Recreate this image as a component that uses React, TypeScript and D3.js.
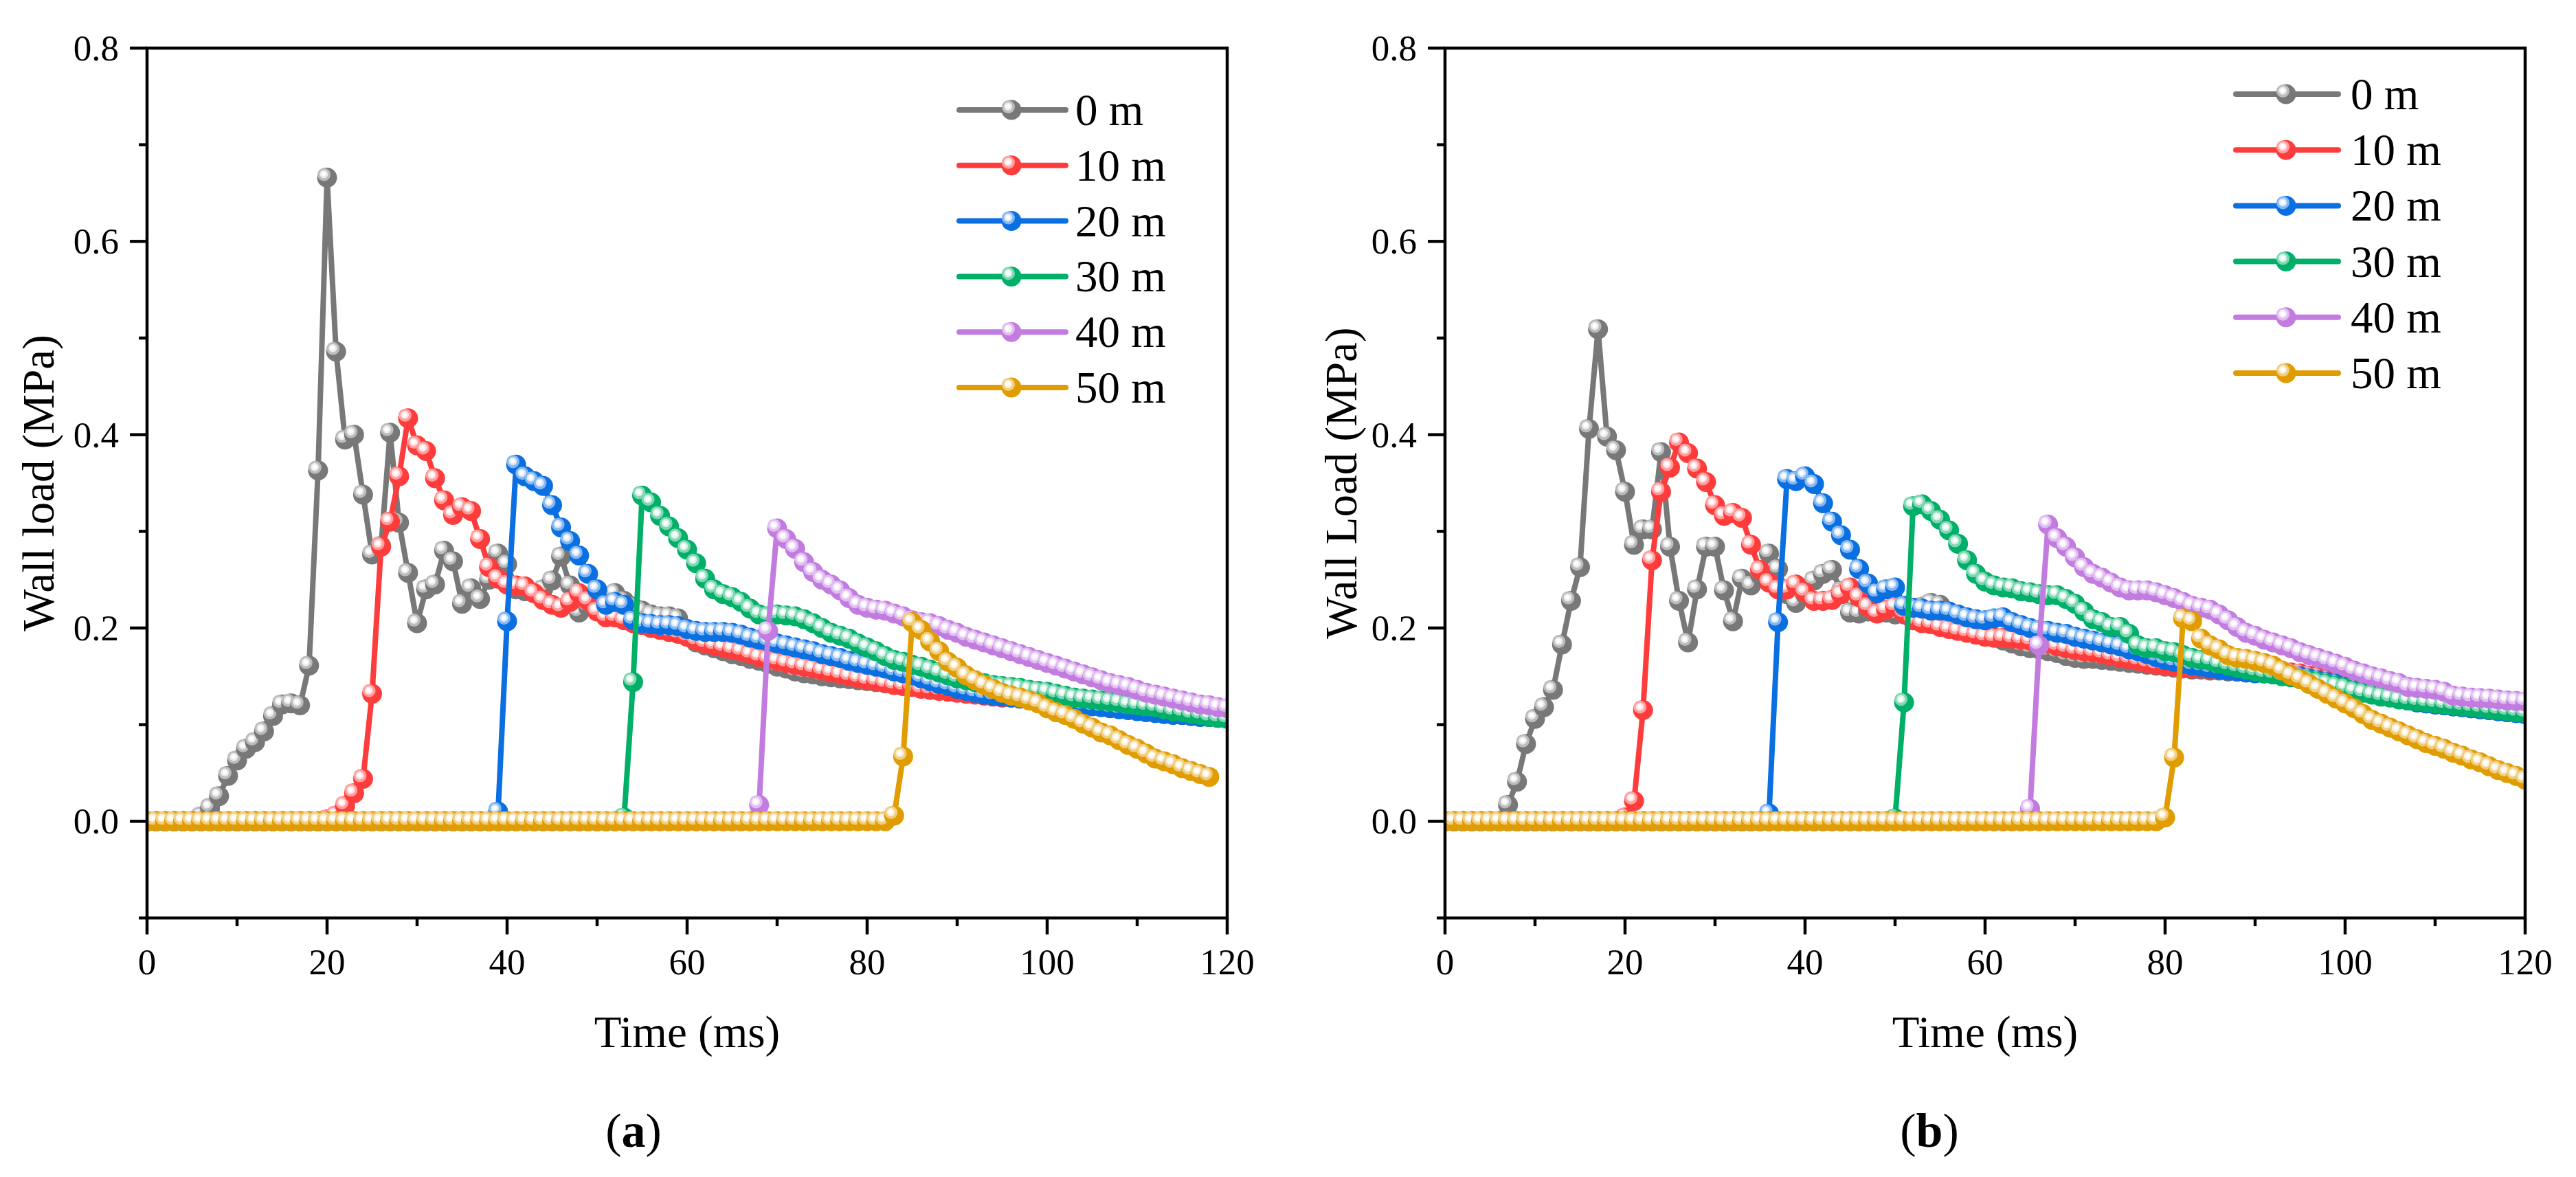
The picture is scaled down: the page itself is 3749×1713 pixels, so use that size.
import React from 'react';
import * as d3 from 'd3';

// ---------- DATA ----------
const seriesNames = ['0 m', '10 m', '20 m', '30 m', '40 m', '50 m'];
const seriesColors = ['#787878', '#FF3C3C', '#0A6FE0', '#00AF68', '#C27CE0', '#E09C00'];
const xTicks = [0, 20, 40, 60, 80, 100, 120];
const yTicks = [0.0, 0.2, 0.4, 0.6, 0.8];
const timeMs = d3.range(0, 121); // sample times, 1 ms step

// Panel (a)
const a0 = [0,0,0,0,0,0,0.005,0.014,0.026,0.047,0.063,0.075,0.082,0.093,0.109,0.121,0.122,0.120,0.161,0.363,
0.666,0.486,0.395,0.400,0.338,0.276,0.285,0.402,0.309,0.257,0.205,0.240,0.245,0.280,0.269,0.225,0.241,0.230,0.250,0.277,
0.266,0.240,0.238,0.236,0.240,0.249,0.274,0.244,0.216,0.222,0.228,0.232,0.236,0.228,0.222,0.218,0.214,0.212,0.212,0.210,
0.198,0.185,0.182,0.179,0.176,0.173,0.171,0.168,0.166,0.163,0.160,0.158,0.155,0.153,0.152,0.150,0.149,0.148,0.147,0.146,
0.145,0.144,0.143,0.142,0.141,0.140,0.139,0.138,0.137,0.136,0.135,0.134,0.133,0.132,0.131,0.130,0.129,0.128,0.127,0.126,
0.125,0.124,0.123,0.122,0.121,0.120,0.119,0.118,0.117,0.116,0.115,0.114,0.113,0.112,0.111,0.110,0.109,0.109,0.108,0.107,0.106];
const a10 = [0,0,0,0,0,0,0,0,0,0,0,0,0,0,0,0,0,0,0,0,
0.002,0.006,0.016,0.029,0.044,0.132,0.284,0.310,0.357,0.417,0.389,0.383,0.355,0.332,0.317,0.325,0.321,0.292,0.263,0.251,
0.245,0.244,0.243,0.236,0.229,0.224,0.221,0.227,0.236,0.228,0.217,0.211,0.211,0.208,0.205,0.203,0.200,0.198,0.196,0.194,
0.191,0.187,0.184,0.182,0.180,0.178,0.176,0.173,0.170,0.168,0.166,0.164,0.162,0.160,0.158,0.156,0.154,0.152,0.150,0.148,
0.146,0.145,0.143,0.141,0.140,0.139,0.137,0.136,0.135,0.134,0.133,0.132,0.131,0.130,0.129,0.128,0.128,0.127,0.126,0.125,
0.125,0.124,0.123,0.122,0.121,0.120,0.119,0.118,0.117,0.116,0.115,0.114,0.113,0.112,0.111,0.110,0.110,0.109,0.108,0.108,0.107];
const a20 = [0,0,0,0,0,0,0,0,0,0,0,0,0,0,0,0,0,0,0,0,
0,0,0,0,0,0,0,0,0,0,0,0,0,0,0,0,0,0,0,0.010,
0.207,0.369,0.357,0.352,0.347,0.327,0.304,0.290,0.275,0.256,0.240,0.224,0.227,0.224,0.208,0.205,0.204,0.203,0.203,0.202,
0.199,0.197,0.196,0.196,0.196,0.195,0.193,0.190,0.188,0.186,0.184,0.182,0.180,0.178,0.176,0.173,0.171,0.169,0.166,0.164,
0.162,0.160,0.158,0.155,0.153,0.151,0.148,0.145,0.142,0.140,0.137,0.135,0.133,0.131,0.130,0.129,0.128,0.127,0.126,0.125,
0.124,0.123,0.122,0.121,0.120,0.119,0.118,0.117,0.116,0.115,0.114,0.113,0.112,0.111,0.110,0.110,0.109,0.108,0.108,0.107,0.107];
const a30 = [0,0,0,0,0,0,0,0,0,0,0,0,0,0,0,0,0,0,0,0,
0,0,0,0,0,0,0,0,0,0,0,0,0,0,0,0,0,0,0,0,
0,0,0,0,0,0,0,0,0,0,0,0,0,0.004,0.144,0.337,0.330,0.316,0.305,0.293,
0.281,0.267,0.251,0.240,0.235,0.232,0.227,0.220,0.214,0.212,0.214,0.213,0.212,0.209,0.205,0.200,0.195,0.192,0.189,0.184,
0.180,0.176,0.171,0.167,0.165,0.162,0.160,0.157,0.154,0.151,0.148,0.146,0.144,0.143,0.141,0.140,0.139,0.138,0.136,0.135,
0.134,0.132,0.130,0.128,0.127,0.126,0.125,0.124,0.123,0.121,0.120,0.119,0.118,0.116,0.114,0.113,0.111,0.110,0.108,0.107,0.106];
const a40 = [0,0,0,0,0,0,0,0,0,0,0,0,0,0,0,0,0,0,0,0,
0,0,0,0,0,0,0,0,0,0,0,0,0,0,0,0,0,0,0,0,
0,0,0,0,0,0,0,0,0,0,0,0,0,0,0,0,0,0,0,0,
0,0,0,0,0,0,0,0,0.017,0.197,0.303,0.292,0.282,0.268,0.258,0.250,0.245,0.239,0.231,0.224,
0.221,0.219,0.218,0.215,0.212,0.208,0.206,0.205,0.202,0.198,0.195,0.191,0.188,0.185,0.182,0.179,0.176,0.173,0.170,0.167,
0.164,0.161,0.158,0.155,0.152,0.149,0.146,0.143,0.141,0.139,0.136,0.133,0.131,0.129,0.127,0.125,0.123,0.121,0.120,0.118,0.117];
const a50 = [0,0,0,0,0,0,0,0,0,0,0,0,0,0,0,0,0,0,0,0,
0,0,0,0,0,0,0,0,0,0,0,0,0,0,0,0,0,0,0,0,
0,0,0,0,0,0,0,0,0,0,0,0,0,0,0,0,0,0,0,0,
0,0,0,0,0,0,0,0,0,0,0,0,0,0,0,0,0,0,0,0,
0,0,0,0.006,0.067,0.206,0.198,0.186,0.176,0.165,0.159,0.151,0.146,0.141,0.137,0.133,0.130,0.128,0.125,0.122,
0.117,0.113,0.110,0.106,0.101,0.097,0.092,0.089,0.084,0.079,0.075,0.070,0.065,0.062,0.059,0.055,0.052,0.049,0.046];

// Panel (b)
const b0 = [0,0,0,0,0,0,0,0.017,0.041,0.080,0.106,0.118,0.136,0.183,0.228,0.263,0.406,0.509,0.398,0.384,
0.341,0.286,0.302,0.302,0.382,0.284,0.228,0.185,0.240,0.284,0.284,0.239,0.207,0.251,0.244,0.255,0.277,0.261,0.235,0.226,
0.235,0.249,0.256,0.260,0.238,0.216,0.215,0.217,0.218,0.216,0.214,0.214,0.218,0.222,0.226,0.224,0.212,0.200,0.197,0.194,
0.192,0.190,0.187,0.184,0.181,0.179,0.178,0.176,0.174,0.171,0.169,0.168,0.168,0.167,0.166,0.165,0.164,0.163,0.162,0.161,
0.160,0.159,0.158,0.157,0.157,0.156,0.156,0.155,0.155,0.154,0.154,0.153,0.153,0.152,0.151,0.150,0.148,0.146,0.144,0.142,
0.139,0.137,0.135,0.133,0.131,0.129,0.127,0.125,0.123,0.122,0.121,0.120,0.119,0.118,0.117,0.116,0.115,0.114,0.113,0.112,0.111];
const b10 = [0,0,0,0,0,0,0,0,0,0,0,0,0,0,0,0,0,0,0,0,
0.004,0.021,0.115,0.270,0.341,0.366,0.392,0.381,0.365,0.351,0.327,0.316,0.319,0.314,0.286,0.260,0.247,0.240,0.240,0.245,
0.237,0.228,0.228,0.229,0.235,0.242,0.232,0.222,0.215,0.219,0.222,0.215,0.208,0.205,0.204,0.201,0.199,0.197,0.195,0.193,
0.191,0.190,0.190,0.189,0.188,0.187,0.186,0.184,0.181,0.179,0.177,0.176,0.175,0.173,0.171,0.169,0.168,0.166,0.164,0.162,
0.161,0.160,0.159,0.158,0.158,0.157,0.157,0.156,0.156,0.156,0.155,0.155,0.155,0.155,0.154,0.153,0.151,0.149,0.146,0.143,
0.140,0.138,0.136,0.134,0.131,0.129,0.127,0.125,0.124,0.123,0.122,0.121,0.120,0.119,0.118,0.117,0.116,0.115,0.114,0.113,0.112];
const b20 = [0,0,0,0,0,0,0,0,0,0,0,0,0,0,0,0,0,0,0,0,
0,0,0,0,0,0,0,0,0,0,0,0,0,0,0,0,0.008,0.206,0.354,0.352,
0.357,0.349,0.329,0.310,0.296,0.281,0.261,0.246,0.236,0.240,0.242,0.223,0.221,0.220,0.218,0.218,0.217,0.214,0.211,0.209,
0.208,0.210,0.211,0.206,0.203,0.200,0.198,0.197,0.195,0.194,0.191,0.189,0.187,0.185,0.183,0.181,0.178,0.176,0.173,0.170,
0.167,0.165,0.163,0.161,0.160,0.158,0.157,0.156,0.155,0.154,0.153,0.153,0.152,0.152,0.151,0.150,0.148,0.146,0.144,0.142,
0.139,0.137,0.135,0.133,0.131,0.129,0.127,0.125,0.123,0.122,0.121,0.120,0.119,0.118,0.117,0.116,0.115,0.114,0.113,0.112,0.111];
const b30 = [0,0,0,0,0,0,0,0,0,0,0,0,0,0,0,0,0,0,0,0,
0,0,0,0,0,0,0,0,0,0,0,0,0,0,0,0,0,0,0,0,
0,0,0,0,0,0,0,0,0,0,0.003,0.123,0.326,0.328,0.321,0.312,0.301,0.287,0.270,0.256,
0.248,0.244,0.242,0.241,0.238,0.237,0.235,0.234,0.234,0.230,0.225,0.217,0.209,0.206,0.201,0.201,0.194,0.182,0.179,0.179,
0.176,0.175,0.172,0.169,0.167,0.166,0.163,0.161,0.159,0.157,0.155,0.153,0.152,0.150,0.149,0.147,0.146,0.144,0.142,0.140,
0.138,0.135,0.133,0.131,0.129,0.128,0.126,0.125,0.124,0.123,0.122,0.121,0.120,0.119,0.118,0.117,0.116,0.115,0.114,0.113,0.112];
const b40 = [0,0,0,0,0,0,0,0,0,0,0,0,0,0,0,0,0,0,0,0,
0,0,0,0,0,0,0,0,0,0,0,0,0,0,0,0,0,0,0,0,
0,0,0,0,0,0,0,0,0,0,0,0,0,0,0,0,0,0,0,0,
0,0,0,0,0,0.013,0.182,0.307,0.293,0.284,0.273,0.263,0.256,0.252,0.247,0.242,0.239,0.239,0.239,0.237,
0.234,0.231,0.227,0.223,0.221,0.219,0.214,0.208,0.201,0.195,0.192,0.188,0.185,0.182,0.179,0.175,0.172,0.169,0.166,0.163,
0.160,0.156,0.153,0.150,0.148,0.145,0.143,0.139,0.138,0.137,0.136,0.134,0.130,0.129,0.128,0.1275,0.127,0.126,0.125,0.1245,0.124];
const b50 = [0,0,0,0,0,0,0,0,0,0,0,0,0,0,0,0,0,0,0,0,
0,0,0,0,0,0,0,0,0,0,0,0,0,0,0,0,0,0,0,0,
0,0,0,0,0,0,0,0,0,0,0,0,0,0,0,0,0,0,0,0,
0,0,0,0,0,0,0,0,0,0,0,0,0,0,0,0,0,0,0,0,
0.004,0.066,0.210,0.207,0.189,0.182,0.178,0.172,0.169,0.168,0.166,0.164,0.161,0.156,0.151,0.147,0.142,0.137,0.132,0.127,
0.122,0.117,0.111,0.105,0.101,0.097,0.093,0.089,0.085,0.081,0.078,0.075,0.071,0.068,0.064,0.061,0.057,0.053,0.050,0.047,0.043];

// ---------- LAYOUT ----------
const W = 3749;
const H = 1713;
const FONT = '"Liberation Serif", "Times New Roman", Times, serif';

type Panel = {
  id: string;
  left: number;
  right: number;
  top: number;
  bottom: number;
  series: number[][];
  yTitle: string;
  yTitleX: number;
  label: string;
  labelX: number;
  legend: { x1: number; x2: number; xm: number; xt: number; y0: number; dy: number };
};

const panels: Panel[] = [
  {
    id: 'a', left: 214, right: 1786, top: 70, bottom: 1336,
    series: [a0, a10, a20, a30, a40, a50],
    yTitle: 'Wall load (MPa)', yTitleX: 78, label: 'a', labelX: 922,
    legend: { x1: 1396, x2: 1551, xm: 1472, xt: 1565, y0: 160, dy: 80.8 },
  },
  {
    id: 'b', left: 2103, right: 3675, top: 70, bottom: 1336,
    series: [b0, b10, b20, b30, b40, b50],
    yTitle: 'Wall Load (MPa)', yTitleX: 1974, label: 'b', labelX: 2808,
    legend: { x1: 3254, x2: 3403, xm: 3327, xt: 3421, y0: 137, dy: 81.2 },
  },
];

const MR = 14.5; // marker radius

function Marker({ x, y, color }: { x: number; y: number; color: string }) {
  const light = d3.interpolateRgb(color, '#ffffff')(0.5);
  const lighter = d3.interpolateRgb(color, '#ffffff')(0.85);
  return (
    <g transform={`translate(${x},${y})`}>
      <circle r={MR} fill={color} />
      <circle cx={-4.5} cy={-4.5} r={9.5} fill={light} />
      <circle cx={-4.8} cy={-5} r={6} fill={lighter} />
      <circle cx={-5} cy={-5.2} r={3.2} fill="#ffffff" />
    </g>
  );
}

function PanelView({ p }: { p: Panel }) {
  const x = d3.scaleLinear().domain([0, 120]).range([p.left, p.right]);
  const y = d3.scaleLinear().domain([-0.1, 0.8]).range([p.bottom, p.top]);
  const line = d3.line<[number, number]>().x((d) => x(d[0])).y((d) => y(d[1]));
  const minorY = d3.range(-1, 9).map((k) => k / 10).filter((v) => !yTicks.some((t) => Math.abs(t - v) < 1e-9));
  const minorX = [10, 30, 50, 70, 90, 110];
  const cx = (p.left + p.right) / 2;
  const cy = (p.top + p.bottom) / 2;
  const clipId = `clip-${p.id}`;
  return (
    <g>
      <defs>
        <clipPath id={clipId}>
          <rect x={p.left} y={p.top} width={p.right - p.left} height={p.bottom - p.top} />
        </clipPath>
      </defs>
      <g clipPath={`url(#${clipId})`}>
        {p.series.map((vals, si) => {
          const pts: [number, number][] = vals.map((v, i) => [timeMs[i], v]);
          const color = seriesColors[si];
          return (
            <g key={si}>
              <path d={line(pts) || ''} fill="none" stroke={color} strokeWidth={8} strokeLinejoin="round" />
              {pts.map((d, i) => (
                <Marker key={i} x={x(d[0])} y={y(d[1])} color={color} />
              ))}
            </g>
          );
        })}
      </g>
      {/* frame */}
      <rect x={p.left} y={p.top} width={p.right - p.left} height={p.bottom - p.top} fill="none" stroke="#000" strokeWidth={4.5} />
      {/* y ticks */}
      {yTicks.map((t) => (
        <g key={`yt${t}`}>
          <line x1={p.left - 25} x2={p.left} y1={y(t)} y2={y(t)} stroke="#000" strokeWidth={4.5} />
          <text x={p.left - 41} y={y(t) + 18} textAnchor="end" fontFamily={FONT} fontSize={53}>
            {d3.format('.1f')(t)}
          </text>
        </g>
      ))}
      {minorY.map((t) => (
        <line key={`ym${t}`} x1={p.left - 12} x2={p.left} y1={y(t)} y2={y(t)} stroke="#000" strokeWidth={4.5} />
      ))}
      {/* x ticks */}
      {xTicks.map((t) => (
        <g key={`xt${t}`}>
          <line x1={x(t)} x2={x(t)} y1={p.bottom} y2={p.bottom + 24} stroke="#000" strokeWidth={4.5} />
          <text x={x(t)} y={1418} textAnchor="middle" fontFamily={FONT} fontSize={53}>
            {t}
          </text>
        </g>
      ))}
      {minorX.map((t) => (
        <line key={`xm${t}`} x1={x(t)} x2={x(t)} y1={p.bottom} y2={p.bottom + 12} stroke="#000" strokeWidth={4.5} />
      ))}
      {/* titles */}
      <text x={cx} y={1524} textAnchor="middle" fontFamily={FONT} fontSize={65}>
        Time (ms)
      </text>
      <text
        x={p.yTitleX}
        y={cy}
        textAnchor="middle"
        fontFamily={FONT}
        fontSize={65}
        transform={`rotate(-90, ${p.yTitleX}, ${cy})`}
      >
        {p.yTitle}
      </text>
      <text x={p.labelX} y={1669} textAnchor="middle" fontFamily={FONT} fontSize={70}>
        (<tspan fontWeight="bold">{p.label}</tspan>)
      </text>
      {/* legend */}
      {seriesNames.map((name, i) => {
        const ly = p.legend.y0 + i * p.legend.dy;
        return (
          <g key={name}>
            <line x1={p.legend.x1} x2={p.legend.x2} y1={ly} y2={ly} stroke={seriesColors[i]} strokeWidth={8} strokeLinecap="round" />
            <Marker x={p.legend.xm} y={ly} color={seriesColors[i]} />
            <text x={p.legend.xt} y={ly + 22} fontFamily={FONT} fontSize={65}>
              {name}
            </text>
          </g>
        );
      })}
    </g>
  );
}

export default function App() {
  return (
    <svg
      width={W}
      height={H}
      viewBox={`0 0 ${W} ${H}`}
      style={{ position: 'absolute', left: 0, top: 0, background: '#fff', display: 'block' }}
    >
      <rect x={0} y={0} width={W} height={H} fill="#fff" />
      {panels.map((p) => (
        <PanelView key={p.id} p={p} />
      ))}
    </svg>
  );
}
